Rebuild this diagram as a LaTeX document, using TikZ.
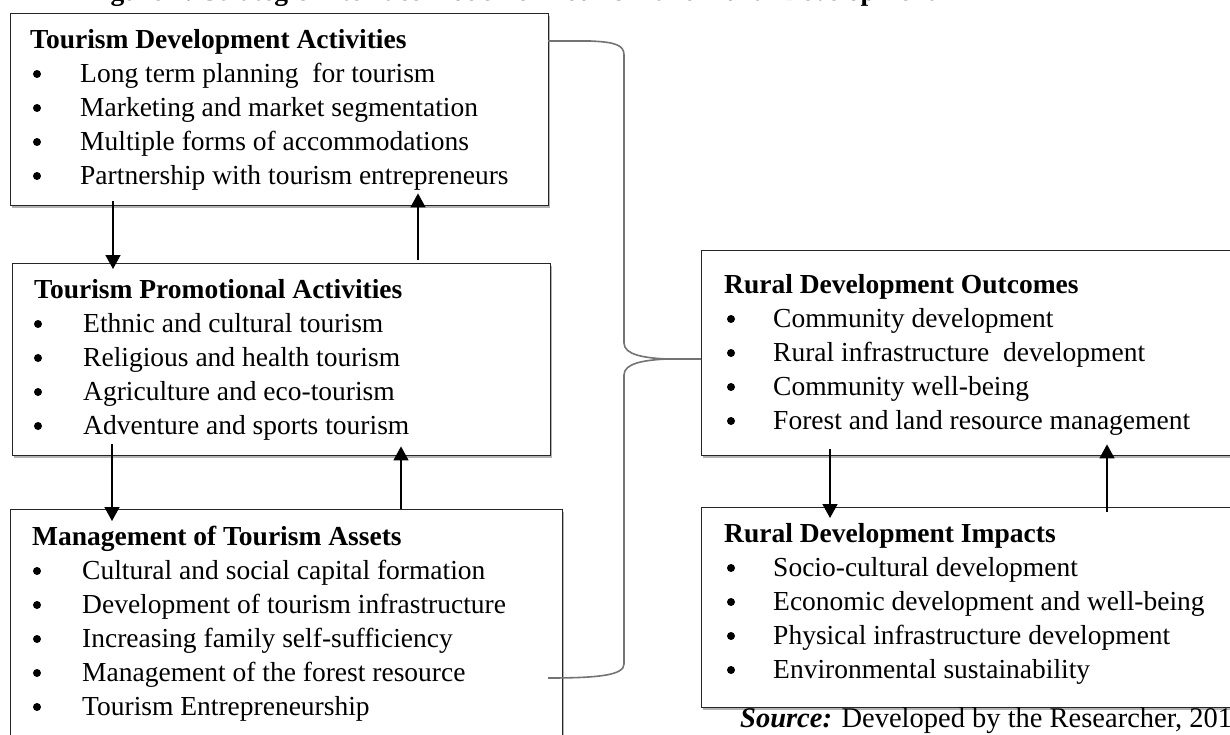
\documentclass[tikz,border=0pt]{standalone}
\usepackage{fontspec}
\setmainfont{Liberation Serif}
\usetikzlibrary{arrows.meta,shadows}

\newcommand\bodysize{\fontsize{27.5}{34}\selectfont}

\tikzset{
  panel/.style={draw=black!85, line width=1.4pt, fill=white, inner sep=0pt,
    anchor=north west,
    drop shadow={shadow xshift=1.5pt, shadow yshift=-2.5pt, fill=black!30, opacity=1}},
  head/.style={anchor=base west, inner sep=0pt, font=\bodysize\bfseries},
  itm/.style={anchor=base west, inner sep=0pt, font=\bodysize},
  bul/.style={circle, fill=black, inner sep=0pt, minimum size=8pt},
  flow/.style={draw=black, line width=1.5pt, -{Triangle[width=15pt,length=14pt]}},
  brace/.style={draw=black!55, line width=1.6pt},
}

\begin{document}
\begin{tikzpicture}[x=1pt, y=-1pt]
\useasboundingbox (0,0) rectangle (1230,734);

% caption line running off the top edge
\node[head] (cap) at (86,0)
  {Figure 1: Strategic Interface model for Tourism and Rural Development};

% the five boxes
\node[panel, minimum width=538pt, minimum height=192pt] (b1) at (10,13) {};
\node[panel, minimum width=538pt, minimum height=192pt] (b2) at (12,263) {};
\node[panel, minimum width=552pt, minimum height=260pt] (b3) at (10,509) {};
\node[panel, minimum width=545pt, minimum height=205pt] (b4) at (701,250) {};
\node[panel, minimum width=545pt, minimum height=200pt] (b5) at (701,507) {};

% box 1
\node[head] (h1) at (30,48) {Tourism Development Activities};
\foreach \t [count=\i] in {Long term planning\ \ for tourism,
    Marketing and market segmentation,
    Multiple forms of accommodations,
    Partnership with tourism entrepreneurs}{
  \node[bul] (u1\i) at (37,40+34*\i) {};
  \node[itm] (t1\i) at (80,48+34*\i) {\t};
}

% box 2
\node[head] (h2) at (34,298) {Tourism Promotional Activities};
\foreach \t [count=\i] in {Ethnic and cultural tourism,
    Religious and health tourism,
    Agriculture and eco-tourism,
    Adventure and sports tourism}{
  \node[bul] (u2\i) at (38,290+34*\i) {};
  \node[itm] (t2\i) at (83,298+34*\i) {\t};
}

% box 3
\node[head] (h3) at (32,545) {Management of Tourism Assets};
\foreach \t [count=\i] in {Cultural and social capital formation,
    Development of tourism infrastructure,
    Increasing family self-sufficiency,
    Management of the forest resource,
    Tourism Entrepreneurship}{
  \node[bul] (u3\i) at (37,537+34*\i) {};
  \node[itm] (t3\i) at (82,545+34*\i) {\t};
}

% box 4
\node[head] (h4) at (724,293) {Rural Development Outcomes};
\foreach \t [count=\i] in {Community development,
    Rural infrastructure\ \ development,
    Community well-being,
    Forest and land resource management}{
  \node[bul] (u4\i) at (731,285+34*\i) {};
  \node[itm] (t4\i) at (773,293+34*\i) {\t};
}

% box 5
\node[head] (h5) at (724,542) {Rural Development Impacts};
\foreach \t [count=\i] in {Socio-cultural development,
    Economic development and well-being,
    Physical infrastructure development,
    Environmental sustainability}{
  \node[bul] (u5\i) at (731,534+34*\i) {};
  \node[itm] (t5\i) at (773,542+34*\i) {\t};
}

% source note
\node[itm, font=\fontsize{28.5}{34}\selectfont] (src) at (740,727)
  {\textbf{\textit{Source:}} Developed by the Researcher, 2018};

% vertical positions of the arrows
\coordinate (xa) at (113,0);
\coordinate (xb) at (418,0);
\coordinate (xc) at (112,0);
\coordinate (xd) at (401,0);
\coordinate (xe) at (830,0);
\coordinate (xf) at (1107,0);

\draw[flow, shorten <=-5pt, shorten >=-6pt] (b1.south -| xa) -- (b2.north -| xa);
\draw[flow, shorten <=3pt, shorten >=-13pt] (b2.north -| xb) -- (b1.south -| xb);
\draw[flow, shorten <=-12pt, shorten >=-12pt] (b2.south -| xc) -- (b3.north -| xc);
\draw[flow, shorten >=-10pt] (b3.north -| xd) -- (b2.south -| xd);
\draw[flow, shorten <=-7pt, shorten >=-11pt] (b4.south -| xe) -- (b5.north -| xe);
\draw[flow, shorten <=-5pt, shorten >=-12pt] (b5.north -| xf) -- (b4.south -| xf);

% brace joining the left column to the outcomes box
\coordinate (bt) at (548,41);
\coordinate (bb) at (548,678);
\coordinate (bm) at (0,359);
\coordinate (tip) at (667,359);
\draw[brace] (bt) -- (590,41) .. controls (615,42) and (624,45) .. (624,55)
  -- (624,343) .. controls (624,355) and (645,358) .. (tip) -- (b4.west |- bm);
\draw[brace] (tip) .. controls (645,360) and (624,363) .. (624,375)
  -- (624,664) .. controls (624,675) and (600,678) .. (bb);
\end{tikzpicture}
\end{document}
